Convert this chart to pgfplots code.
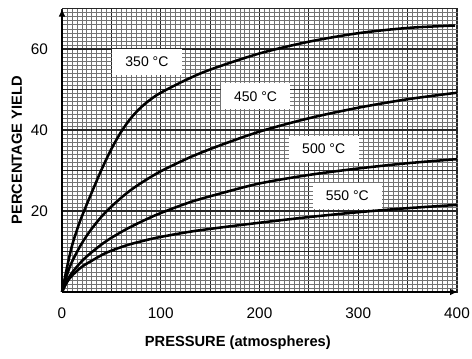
\documentclass[border=0pt]{standalone}
\usepackage{fontspec}
\setmainfont{Liberation Sans}
\usepackage{pgfplots}
\pgfplotsset{compat=1.18}
\usetikzlibrary{arrows.meta}
\begin{document}
\begin{tikzpicture}
\path[use as bounding box] (-46.5pt,-50.25pt) rectangle (307.5pt,219pt);
\begin{axis}[
 at={(0,0)}, anchor=south west,
 scale only axis, width=297pt, height=212.625pt,
 xmin=0, xmax=401, ymin=0, ymax=70,
 axis lines=left,
 axis line style={line width=1pt, -{Latex[length=6pt,width=5pt]}},
 xtick={0,50,...,400}, xticklabels={0,,100,,200,,300,,400},
 ytick={0,10,...,70}, yticklabels={,,20,,40,,60,},
 minor x tick num=9, minor y tick num=9,
 grid=both,
 major grid style={black!85, line width=0.8pt},
 minor grid style={black!55, line width=0.35pt},
 major tick length=0pt, minor tick length=0pt,
 tick label style={font=\fontsize{11.5}{13}\selectfont},
 xticklabel style={yshift=-8pt},
 yticklabel style={xshift=-7pt},
 /pgf/number format/assume math mode=true,
 clip=false,
]
\addplot[black, line width=1.9pt, smooth, tension=0.5] coordinates {
 (0,0) (5,6) (10,11.3) (15,15.2) (20,18.6) (30,24.5) (40,30.2) (50,35.3) (60,39.6) (70,43.0) (80,45.6) (90,47.6) (100,49.2) (125,52.3) (150,54.9) (200,58.9) (250,61.8) (300,63.9) (350,65.2) (398,65.8)};
\addplot[black, line width=1.9pt, smooth, tension=0.5] coordinates {
 (0,0) (5,4.2) (10,7.4) (20,12.0) (30,15.6) (40,18.6) (50,21.1) (65,24.3) (80,26.9) (100,29.8) (130,33.3) (160,36.2) (200,39.6) (250,42.9) (300,45.5) (350,47.6) (400,49.2)};
\addplot[black, line width=1.9pt, smooth, tension=0.5] coordinates {
 (0,0) (5,2.7) (10,4.7) (20,7.6) (30,9.8) (45,12.6) (65,15.5) (85,17.9) (100,19.5) (130,22.2) (160,24.3) (200,26.8) (250,28.9) (300,30.5) (350,31.8) (400,32.8)};
\addplot[black, line width=1.9pt, smooth, tension=0.5] coordinates {
 (0,0) (5,2.4) (10,4.0) (20,6.2) (30,7.7) (45,9.7) (65,11.5) (85,12.8) (100,13.6) (130,14.9) (160,15.9) (200,17.1) (250,18.5) (300,19.7) (350,20.7) (400,21.5)};
\tikzset{lbl/.style={fill=white, inner xsep=10pt, inner ysep=6pt, font=\fontsize{10.5}{12}\selectfont}}
\node[lbl] at (axis cs:86,56.9) {350 °C};
\node[lbl] at (axis cs:196,48.3) {450 °C};
\node[lbl] at (axis cs:265,35.4) {500 °C};
\node[lbl] at (axis cs:289,23.7) {550 °C};
\node[font=\bfseries\fontsize{11}{13}\selectfont] at (axis description cs:0.444,-0.18) {PRESSURE (atmospheres)};
\node[font=\bfseries\fontsize{11}{13}\selectfont, rotate=90] at (axis description cs:-0.114,0.5) {PERCENTAGE YIELD};
\end{axis}
\end{tikzpicture}
\end{document}
